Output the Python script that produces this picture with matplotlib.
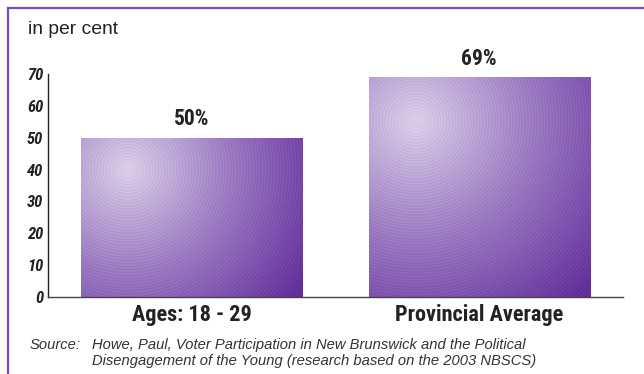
import numpy as np
import matplotlib
matplotlib.use("Agg")
import matplotlib.pyplot as plt
from matplotlib.lines import Line2D
from matplotlib.colors import LinearSegmentedColormap
from matplotlib import font_manager as fm

categories = ["Ages: 18 - 29", "Provincial Average"]
values = [50, 69]
value_labels = ["50%", "69%"]
y_ticks = [0, 10, 20, 30, 40, 50, 60, 70]

installed = {f.name for f in fm.fontManager.ttflist}


def pick(*cands):
    for c in cands:
        if c in installed:
            return c
    return "DejaVu Sans"


narrow = pick("Liberation Sans Narrow", "Roboto Condensed", "Archivo Narrow",
              "PT Sans Narrow", "Barlow Semi Condensed")
regular = pick("Liberation Sans", "Arimo", "DejaVu Sans")

W, H, DPI = 644, 374, 100
fig = plt.figure(figsize=(W / DPI, H / DPI), dpi=DPI)
fig.patch.set_facecolor("white")

# plot area in pixel terms
x0, x1 = 48, 623
y_top, y_bot = 74, 297
ax = fig.add_axes([x0 / W, (H - y_bot) / H, (x1 - x0) / W, (y_bot - y_top) / H])
ax.set_xlim(-0.5, 1.5)
ax.set_ylim(0, 70)
for s in ("top", "right"):
    ax.spines[s].set_visible(False)
ax.spines["left"].set_color("#222222")
ax.spines["bottom"].set_color("#444444")
ax.spines["left"].set_linewidth(1.0)
ax.spines["bottom"].set_linewidth(1.0)
ax.set_yticks(y_ticks)
ax.set_yticklabels([str(t) for t in y_ticks], family=narrow, fontweight="bold",
                   fontstyle="italic", fontsize=12, color="#222222")
ax.tick_params(axis="y", length=0, pad=3.5)
ax.set_xticks([])

bar_w = 0.77
xs = np.arange(len(categories))
bars = ax.bar(xs, values, width=bar_w, facecolor="none", edgecolor="none")

cmap = LinearSegmentedColormap.from_list(
    "violet", ["#dcd0e9", "#bba5d5", "#9a78c1", "#7d52ae", "#5f2b96"])

fig.canvas.draw()
for rect in bars:
    bx, by = rect.get_x(), rect.get_y()
    bw, bh = rect.get_width(), rect.get_height()
    (px0, py0) = ax.transData.transform((bx, by))
    (px1, py1) = ax.transData.transform((bx + bw, by + bh))
    pw, ph = int(round(px1 - px0)) * 2, int(round(py1 - py0)) * 2
    yy, xx = np.mgrid[0:ph, 0:pw] / 2.0
    cx, cy = 0.21 * pw / 2, 0.2 * ph / 2
    r = np.hypot(xx - cx, yy - cy)
    rmax = np.hypot(pw / 2 - cx, ph / 2 - cy)
    base = (r / rmax) ** 0.95
    rings = 0.05 * np.sin(r * 2 * np.pi / 3.0)
    val = np.clip(base + rings, 0, 1)
    img = ax.imshow(val, cmap=cmap, vmin=0, vmax=1, origin="upper",
                    extent=(bx, bx + bw, by, by + bh), aspect="auto",
                    interpolation="antialiased", zorder=2)
    img.set_clip_path(rect)

ax.set_xlim(-0.5, 1.5)
ax.set_ylim(0, 70)

for x, v, lab in zip(xs, values, value_labels):
    ax.annotate(lab, (x, v), xytext=(0, 5.5), textcoords="offset points",
                ha="center", va="bottom", family=narrow, fontweight="bold",
                fontsize=15.5, color="#222222")

for x, c in zip(xs, categories):
    ax.annotate(c, (x, 0), xytext=(0, -5), textcoords="offset points",
                ha="center", va="top", family=narrow, fontweight="bold",
                fontsize=16, color="#222222", annotation_clip=False)

fig.text(28 / W, 1 - 30 / H, "in per cent", family=regular, fontsize=13.9,
         color="#222222", va="center", ha="left")

src_style = dict(family=regular, fontstyle="italic", fontsize=10.6, color="#333333",
                 va="center", ha="left")
fig.text(30 / W, 1 - 345 / H, "Source:", **src_style)
fig.text(92 / W, 1 - 345 / H,
         "Howe, Paul, Voter Participation in New Brunswick and the Political", **src_style)
fig.text(92 / W, 1 - 361 / H,
         "Disengagement of the Young (research based on the 2003 NBSCS)", **src_style)

frame_col = "#7a4fb4"
fig.add_artist(Line2D([8 / W, 1.0], [1 - 8 / H, 1 - 8 / H], transform=fig.transFigure,
                      color=frame_col, lw=1.6))
fig.add_artist(Line2D([8 / W, 8 / W], [0.0, 1 - 8 / H], transform=fig.transFigure,
                      color=frame_col, lw=1.6))

fig.savefig("out.png", dpi=DPI, facecolor="white")
